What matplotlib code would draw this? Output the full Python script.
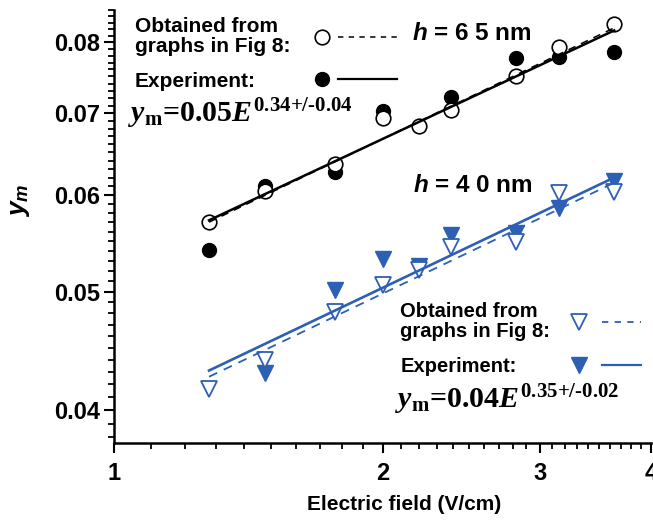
"""Power-law fit of y_m vs electric field (log-log), two film thicknesses."""

import matplotlib
import matplotlib.pyplot as plt
import numpy as np
from matplotlib.legend_handler import HandlerBase
from matplotlib.lines import Line2D
from matplotlib.ticker import FixedLocator, FixedFormatter, NullFormatter

matplotlib.use("Agg")

# ---------------------------------------------------------------------------
# Data
# ---------------------------------------------------------------------------

# h = 65 nm
E_FIG8_65 = [1.278, 1.478, 1.767, 2.0, 2.196, 2.385, 2.822, 3.154, 3.637]
YM_FIG8_65 = [0.0570, 0.0604, 0.0636, 0.0694, 0.0683, 0.0704, 0.0750, 0.0793, 0.0828]
E_EXP_65 = [1.278, 1.478, 1.767, 2.0, 2.385, 2.822, 3.154, 3.637]
YM_EXP_65 = [0.0541, 0.0610, 0.0626, 0.0703, 0.0722, 0.0776, 0.0778, 0.0785]

# h = 40 nm
E_FIG8_40 = [1.278, 1.478, 1.767, 2.0, 2.196, 2.385, 2.822, 3.154, 3.637]
YM_FIG8_40 = [0.0416, 0.0440, 0.0481, 0.0506, 0.0521, 0.0544, 0.0549, 0.0602, 0.0603]
E_EXP_40 = [1.478, 1.767, 2.0, 2.196, 2.385, 2.822, 3.154, 3.637]
YM_EXP_40 = [0.0429, 0.0502, 0.0532, 0.0525, 0.0556, 0.0558, 0.0585, 0.0616]

# fitted power laws (end points of the straight lines)
FIT_E = [1.278, 3.637]
FIT_FIG8_65 = [0.0570, 0.0822]
FIT_EXP_65 = [0.0572, 0.0818]
FIT_FIG8_40 = [0.0426, 0.0614]
FIT_EXP_40 = [0.0431, 0.0620]

X_MAJOR = [1, 2, 3, 4]
Y_MAJOR = [0.04, 0.05, 0.06, 0.07, 0.08]
Y_LABELS = ["0.04", "0.05", "0.06", "0.07", "0.08"]

BLUE = "#2d5fb4"

plt.rcParams["font.family"] = ["Liberation Sans", "DejaVu Sans"]
plt.rcParams["font.weight"] = "bold"
plt.rcParams["mathtext.fontset"] = "custom"
plt.rcParams["mathtext.rm"] = "Liberation Serif:bold"
plt.rcParams["mathtext.it"] = "Liberation Serif:italic:bold"
plt.rcParams["mathtext.bf"] = "Liberation Serif:bold"
plt.rcParams["mathtext.sf"] = "Liberation Sans:italic:bold"


class MarkerAfterText(HandlerBase):
    """Legend handle drawn to the right of the label: marker, then a short line.

    Offsets are in points from the left edge of the label text.
    """

    def __init__(self, marker_x, line_x0, line_x1, **kw):
        super().__init__(**kw)
        self.marker_x = marker_x
        self.line_x0 = line_x0
        self.line_x1 = line_x1

    def create_artists(self, legend, orig, xdescent, ydescent, width, height,
                       fontsize, trans):
        y = height / 2 - ydescent
        x0 = -xdescent
        mk = Line2D([x0 + self.marker_x], [y], marker=orig.get_marker(),
                    markersize=orig.get_markersize(),
                    markerfacecolor=orig.get_markerfacecolor(),
                    markeredgecolor=orig.get_markeredgecolor(),
                    markeredgewidth=orig.get_markeredgewidth(), linestyle="none")
        ln = Line2D([x0 + self.line_x0, x0 + self.line_x1], [y, y], color=orig.get_color(),
                    linestyle=orig.get_linestyle(), linewidth=orig.get_linewidth())
        if orig.get_linestyle() == "--":
            ln.set_dashes((3.5, 3.5))
        mk.set_transform(trans)
        ln.set_transform(trans)
        return [mk, ln]


fig = plt.figure(figsize=(6.53, 5.21), dpi=100)
ax = fig.add_axes([0.1746, 0.1497, 0.8224, 0.831])
ax.set_xscale("log")
ax.set_yscale("log")

# markers: filled first, open on top, fit lines over everything
ax.plot(E_EXP_65, YM_EXP_65, "o", ms=10, mfc="black", mec="black", zorder=2)
ax.plot(E_FIG8_65, YM_FIG8_65, "o", ms=10.5, mfc="white", mec="black", mew=1.2, zorder=3)
ax.plot(E_EXP_40, YM_EXP_40, "v", ms=11.5, mfc=BLUE, mec=BLUE, zorder=2)
ax.plot(E_FIG8_40, YM_FIG8_40, "v", ms=11.5, mfc="white", mec=BLUE, mew=1.3, zorder=3)

ax.plot(FIT_E, FIT_FIG8_65, "--", color="black", lw=1.1, dashes=(5, 4), zorder=4)
ax.plot(FIT_E, FIT_EXP_65, "-", color="black", lw=1.8, zorder=4)
ax.plot(FIT_E, FIT_FIG8_40, "--", color=BLUE, lw=1.3, dashes=(5, 4), zorder=4)
ax.plot(FIT_E, FIT_EXP_40, "-", color=BLUE, lw=1.9, zorder=4)

ax.set_xlim(1, 4)
ax.set_ylim(0.0376, 0.085)

ax.xaxis.set_major_locator(FixedLocator(X_MAJOR))
ax.xaxis.set_major_formatter(FixedFormatter([str(v) for v in X_MAJOR]))
ax.xaxis.set_minor_locator(FixedLocator(np.arange(1.1, 4.0, 0.1)))
ax.xaxis.set_minor_formatter(NullFormatter())
ax.yaxis.set_major_locator(FixedLocator(Y_MAJOR))
ax.yaxis.set_major_formatter(FixedFormatter(Y_LABELS))
ax.yaxis.set_minor_locator(FixedLocator(np.arange(0.038, 0.0855, 0.001)))
ax.yaxis.set_minor_formatter(NullFormatter())

for side in ("top", "right"):
    ax.spines[side].set_visible(False)
for side in ("left", "bottom"):
    ax.spines[side].set_linewidth(1.8)
ax.tick_params(which="major", length=7.5, width=1.5, labelsize=17, pad=2.5)
ax.tick_params(which="minor", length=4, width=1.3)
ax.tick_params(axis="x", which="major", pad=6)

ax.text(0.54, -0.143, "Electric field (V/cm)", transform=ax.transAxes,
        ha="center", va="center", fontsize=15, fontweight="bold")
ax.text(-0.175, 0.561, r"$\mathsf{y}_{\mathsf{m}}$", transform=ax.transAxes,
        ha="center", va="center", rotation=90, fontsize=19)

# in-plot labels
ax.text(0.555, 0.931, r"$\mathsf{h}$ = 6 5 nm", transform=ax.transAxes,
        ha="left", va="baseline", fontsize=17.5, fontweight="bold")
ax.text(0.557, 0.58, r"$\mathsf{h}$ = 4 0 nm", transform=ax.transAxes,
        ha="left", va="baseline", fontsize=17.5, fontweight="bold")
ax.text(0.026, 0.741, r"$y_{\text{m}}\text{=0.05}E^{\text{0.34+/-0.04}}$",
        transform=ax.transAxes, ha="left", va="baseline", fontsize=21.5)
ax.text(0.523, 0.081, r"$y_{\text{m}}\text{=0.04}E^{\text{0.35+/-0.02}}$",
        transform=ax.transAxes, ha="left", va="baseline", fontsize=21.5)

# legends (label text first, symbol + line sample to its right)
h_fig8_65 = Line2D([], [], marker="o", ms=10.5, mfc="white", mec="black", mew=1.2,
                   color="black", ls="--", lw=1.1)
h_exp_65 = Line2D([], [], marker="o", ms=10, mfc="black", mec="black",
                  color="black", ls="-", lw=1.6)
leg1 = ax.legend([h_fig8_65, h_exp_65], ["Obtained from\ngraphs in Fig 8:", "Experiment:"],
                 loc="upper left", bbox_to_anchor=(0.039, 0.983), frameon=False,
                 borderpad=0, borderaxespad=0, prop={"weight": "bold", "size": 15},
                 handlelength=0, handletextpad=0, labelspacing=0.75,
                 handler_map={Line2D: MarkerAfterText(135, 146, 189)})
for t in leg1.get_texts():
    t.set_linespacing(1.05)
ax.add_artist(leg1)

h_fig8_40 = Line2D([], [], marker="v", ms=11.5, mfc="white", mec=BLUE, mew=1.3,
                   color=BLUE, ls="--", lw=1.3)
h_exp_40 = Line2D([], [], marker="v", ms=11.5, mfc=BLUE, mec=BLUE,
                  color=BLUE, ls="-", lw=1.6)
leg2 = ax.legend([h_fig8_40, h_exp_40], ["Obtained from\ngraphs in Fig 8:", "Experiment:"],
                 loc="upper left", bbox_to_anchor=(0.533, 0.326), frameon=False,
                 borderpad=0, borderaxespad=0, prop={"weight": "bold", "size": 14.5},
                 handlelength=0, handletextpad=0, labelspacing=0.8,
                 handler_map={Line2D: MarkerAfterText(129, 145, 173)})
for t in leg2.get_texts():
    t.set_linespacing(1.05)

fig.savefig("out.png", dpi=100)
